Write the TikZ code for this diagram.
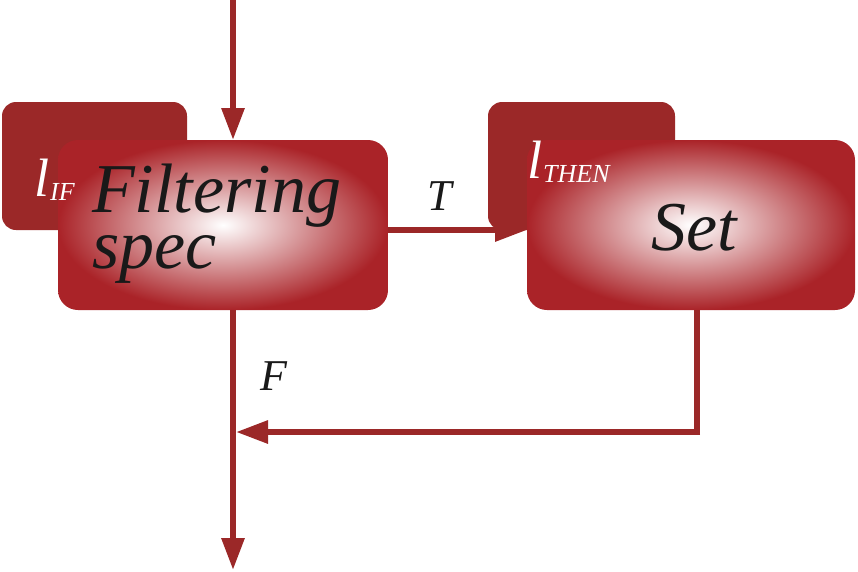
\documentclass[tikz,border=0pt]{standalone}
\usepackage{fontspec}
\setmainfont{Liberation Serif}
\usetikzlibrary{arrows.meta}
\definecolor{dred}{RGB}{155,40,40}
\definecolor{mred}{RGB}{170,35,40}
\tikzset{
  tab/.style={fill=dred,rounded corners=14pt},
  mainbox/.style={rounded corners=20pt,inner color=white,outer color=mred},
  conn/.style={draw=dred,line width=6pt},
  arr/.style={conn,-{Triangle[length=32pt,width=22pt]}},
  big/.style={font=\fontsize{70}{56}\selectfont\itshape,text=black!90},
  lab/.style={font=\fontsize{44}{40}\selectfont\itshape,text=black!90},
  ltxt/.style={font=\fontsize{54}{44}\selectfont\itshape,text=white}
}
\begin{document}
\begin{tikzpicture}[x=1pt,y=-1pt]
\useasboundingbox (0,0) rectangle (858,571);
\fill[tab] (2,102) rectangle (187,230);
\shade[mainbox] (58,140) rectangle (388,310);
\node (A) at (223,225) [minimum width=330pt,minimum height=170pt] {};
\fill[tab] (488,102) rectangle (675,230);
\shade[mainbox] (527,140) rectangle (855,310);
\node (B) at (691,225) [minimum width=328pt,minimum height=170pt] {};
\node[ltxt,anchor=base west,inner sep=0pt] (l1) at (34,196) {l\kern1pt\raisebox{-4pt}{\fontsize{26}{26}\selectfont IF}};
\node[ltxt,anchor=base west,inner sep=0pt] (l2) at (527,178) {l\kern1pt\raisebox{-4pt}{\fontsize{26}{26}\selectfont THEN}};
\node[big,align=left,anchor=base west,inner sep=0pt] (f) at (92,268) {Filtering\\spec};
\node[big,anchor=base,inner sep=0pt] (s) at (694,250) {Set};
\coordinate (top) at (233,0);
\draw[arr] (top) -- (233,140);
\draw[arr] (388,230) -- (527,230);
\node[lab] (T) at (440,196) {T};
\coordinate (bot) at (233,570);
\draw[arr] (233,310) -- (bot);
\node[lab] (F) at (274,376) {F};
\coordinate (c1) at (697,432);
\draw[conn] (697,310) -- (c1);
\draw[arr] ([xshift=3pt]c1) -- (236,432);
\end{tikzpicture}
\end{document}
